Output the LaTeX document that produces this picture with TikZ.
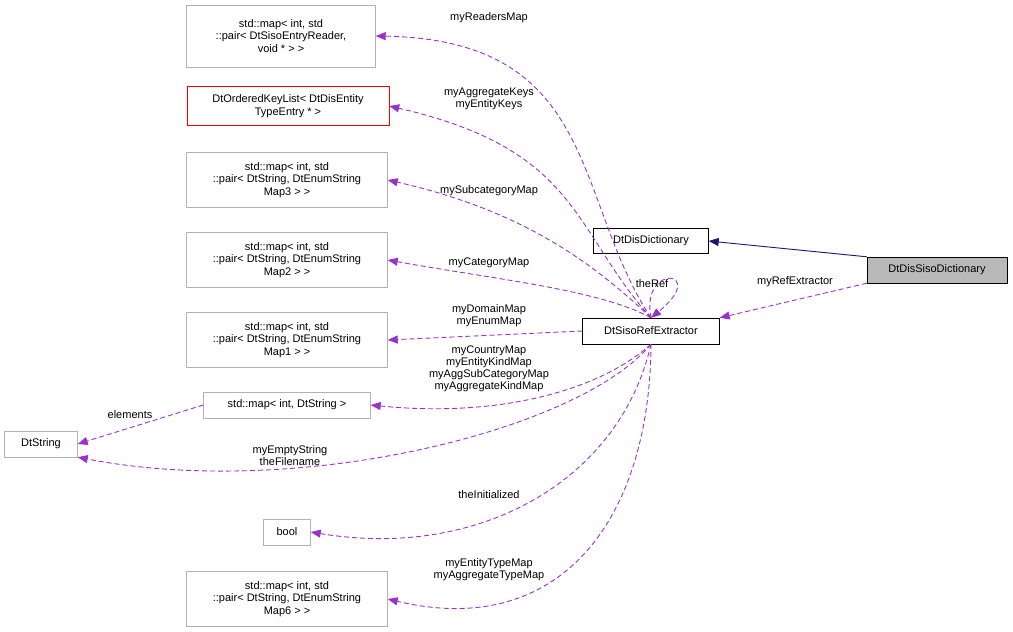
\documentclass[tikz,border=0pt]{standalone}
\usepackage{fontspec}
\setmainfont{Liberation Sans}
\usetikzlibrary{arrows.meta}
\definecolor{memcol}{RGB}{153,50,204}
\definecolor{inhcol}{RGB}{25,25,112}
\tikzset{
  cls/.style={draw=gray!60, fill=white, align=center, inner sep=2pt, font=\fontsize{11}{12.5}\selectfont},
  mem/.style={draw=memcol, line width=0.9pt, dash pattern=on 5pt off 3pt, -{Triangle[length=10pt,width=8pt]}},
  lbl/.style={align=center, font=\fontsize{11}{12}\selectfont, inner sep=1pt},
}
\begin{document}
\begin{tikzpicture}[x=1pt,y=-1pt]
	\useasboundingbox (0,0) rectangle (1013,632);

	\node[cls, minimum width=189, minimum height=62] (readers) at (281,36) {std::map< int, std\\::pair< DtSisoEntryReader,\\void * > >};
	\node[cls, draw=red, minimum width=202, minimum height=39] (keylist) at (288,106) {DtOrderedKeyList< DtDisEntity\\TypeEntry * >};
	\node[cls, minimum width=201, minimum height=55] (map3) at (287,180) {std::map< int, std\\::pair< DtString, DtEnumString\\Map3 > >};
	\node[cls, minimum width=201, minimum height=55] (map2) at (287,260) {std::map< int, std\\::pair< DtString, DtEnumString\\Map2 > >};
	\node[cls, minimum width=201, minimum height=55] (map1) at (287,340) {std::map< int, std\\::pair< DtString, DtEnumString\\Map1 > >};
	\node[cls, minimum width=167, minimum height=26] (mapint) at (287,405) {std::map< int, DtString >};
	\node[cls, minimum width=73, minimum height=26] (dtstring) at (41,444) {DtString};
	\node[cls, minimum width=47, minimum height=26] (bool) at (287,532) {bool};
	\node[cls, minimum width=201, minimum height=55] (map6) at (287,599) {std::map< int, std\\::pair< DtString, DtEnumString\\Map6 > >};
	\node[cls, draw=black, minimum width=115, minimum height=25] (dict) at (651,241) {DtDisDictionary};
	\node[cls, draw=black, fill=gray!55, minimum width=140, minimum height=26] (siso) at (937,270) {DtDisSisoDictionary};
	\node[cls, draw=black, minimum width=137, minimum height=26] (ref) at (651,331) {DtSisoRefExtractor};

	% inheritance
	\draw[draw=inhcol, line width=0.9pt, -{Triangle[length=10pt,width=8pt]}] (siso.north west) -- (dict.east);

	% members
	\draw[mem] (siso.south west) -- (ref.north east);
	\draw[mem] (ref.north) .. controls (573,200) and (600,40) .. (readers.east);
	\draw[mem] (ref.north) .. controls (572,230) and (580,150) .. (keylist.east);
	\draw[mem] (ref.north) .. controls (590,260) and (520,210) .. (map3.east);
	\draw[mem] (ref.north) .. controls (600,290) and (500,280) .. (map2.east);
	\draw[mem] (ref.west) -- (map1.east);
	\draw[mem] (ref.south) .. controls (600,390) and (500,418) .. (mapint.east);
	\draw[mem] (mapint.west) -- (dtstring.east);
	\draw[mem] (ref.south) .. controls (580,430) and (300,500) .. (dtstring.south east);
	\draw[mem] (ref.south) .. controls (620,480) and (480,560) .. (bool.east);
	\draw[mem] (ref.south) .. controls (650,520) and (560,640) .. (map6.east);
	\draw[mem] (ref.north) .. controls (640,262) and (710,270) .. (ref.north);

	\node[lbl] (l1) at (489,18) {myReadersMap};
	\node[lbl] (l2) at (489,99) {myAggregateKeys\\myEntityKeys};
	\node[lbl] (l3) at (489,191) {mySubcategoryMap};
	\node[lbl] (l4) at (489,263) {myCategoryMap};
	\node[lbl] (l5) at (489,316) {myDomainMap\\myEnumMap};
	\node[lbl] (l6) at (489,369) {myCountryMap\\myEntityKindMap\\myAggSubCategoryMap\\myAggregateKindMap};
	\node[lbl] (l7) at (130,415) {elements};
	\node[lbl] (l8) at (290,456) {myEmptyString\\theFilename};
	\node[lbl] (l9) at (489,495) {theInitialized};
	\node[lbl] (l10) at (489,570) {myEntityTypeMap\\myAggregateTypeMap};
	\node[lbl] (l11) at (652,284) {theRef};
	\node[lbl] (l12) at (795,282) {myRefExtractor};
\end{tikzpicture}
\end{document}
